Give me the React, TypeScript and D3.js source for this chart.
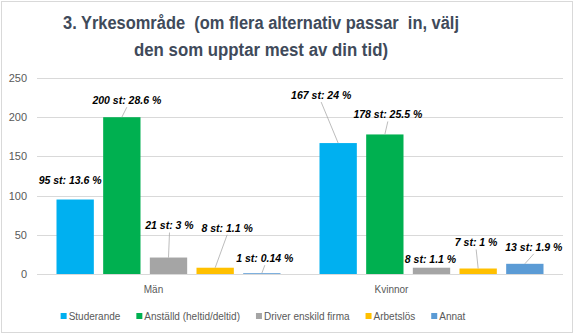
import React, { useEffect, useRef } from "react";
import * as d3 from "d3";

const categories = ["Män", "Kvinnor"];
const seriesNames = ["Studerande", "Anställd (heltid/deltid)", "Driver enskild firma", "Arbetslös", "Annat"];
const seriesColors = ["#00B0F0", "#00B050", "#A5A5A5", "#FFC000", "#5B9BD5"];
const valuesMan = [95, 200, 21, 8, 1];
const valuesKvinnor = [167, 178, 8, 7, 13];
const labelsMan = ["95 st: 13.6 %", "200 st: 28.6 %", "21 st: 3 %", "8 st: 1.1 %", "1 st: 0.14 %"];
const labelsKvinnor = ["167 st: 24 %", "178 st: 25.5 %", "8 st: 1.1 %", "7 st: 1 %", "13 st: 1.9 %"];
const yTicks = [0, 50, 100, 150, 200, 250];
const titleLines = ["3. Yrkesområde  (om flera alternativ passar  in, välj", "den som upptar mest av din tid)"];

// label placement (layout, not data): [dx, dy, leader]
const labelLayout: [number, number, boolean][][] = [
  [[-5, -19, false], [5, -17, true], [1, -32, true], [12, -40, true], [3, -15, true]],
  [[-17, -48, true], [3, -20, true], [-1, -9, false], [-2, -26, true], [9, -17, true]],
];
const catLabelShift = [-15, -40];

export default function App() {
  const ref = useRef<SVGSVGElement>(null);
  useEffect(() => {
    const svg = d3.select(ref.current);
    svg.selectAll("*").remove();
    const W = 576, H = 336;
    const left = 37, right = 563, top = 78, bottom = 274;
    const font = "'Liberation Sans', Arial, sans-serif";

    svg.append("rect").attr("x", 1.5).attr("y", 1.5).attr("width", W - 5).attr("height", H - 5)
      .attr("fill", "#fff").attr("stroke", "#d9d9d9").attr("stroke-width", 1);

    const x0 = d3.scaleBand<string>().domain(categories).range([left, right]).padding(0);
    const x1 = d3.scaleBand<string>().domain(seriesNames).range([19.5, x0.bandwidth() - 19.5]).paddingInner(0.2).paddingOuter(0);
    const y = d3.scaleLinear().domain([0, 250]).range([bottom, top]);

    // title
    const tw = [396, 254];
    const tb = [29, 56];
    titleLines.forEach((t, i) => {
      svg.append("text").attr("x", 261).attr("y", tb[i]).attr("text-anchor", "middle")
        .attr("font-family", font).attr("font-weight", "bold").attr("font-size", 17.5)
        .attr("fill", "#404a5a").attr("textLength", tw[i]).attr("lengthAdjust", "spacingAndGlyphs")
        .style("white-space", "pre").text(t);
    });

    // grid + y ticks
    yTicks.forEach((v) => {
      svg.append("line").attr("x1", left).attr("x2", right).attr("y1", Math.round(y(v)) + 0.5).attr("y2", Math.round(y(v)) + 0.5)
        .attr("stroke", "#d9d9d9").attr("stroke-width", 1);
      svg.append("text").attr("x", 27).attr("y", y(v) + 4).attr("text-anchor", "end")
        .attr("font-family", font).attr("font-size", 11).attr("fill", "#595959").text(String(v));
    });

    const allValues = [valuesMan, valuesKvinnor];
    const allLabels = [labelsMan, labelsKvinnor];
    categories.forEach((cat, ci) => {
      const g = svg.append("g").attr("transform", `translate(${x0(cat)},0)`);
      seriesNames.forEach((s, si) => {
        const v = allValues[ci][si];
        const bx = x1(s)!;
        g.append("rect").attr("x", bx).attr("y", y(v)).attr("width", x1.bandwidth())
          .attr("height", y(0) - y(v)).attr("fill", seriesColors[si]);
      });
      seriesNames.forEach((s, si) => {
        const v = allValues[ci][si];
        const cx = x1(s)! + x1.bandwidth() / 2;
        const [dx, dy, leader] = labelLayout[ci][si];
        const lx = cx + dx, ly = y(v) + dy;
        if (leader) {
          g.append("line").attr("x1", lx).attr("y1", ly + 7).attr("x2", cx).attr("y2", y(v))
            .attr("stroke", "#a6a6a6").attr("stroke-width", 0.75);
        }
        g.append("text").attr("x", lx).attr("y", ly + 3.8).attr("text-anchor", "middle")
          .attr("font-family", font).attr("font-weight", "bold").attr("font-style", "italic")
          .attr("font-size", 10.5).attr("fill", "#000").text(allLabels[ci][si]);
      });
      svg.append("text").attr("x", x0(cat)! + x0.bandwidth() / 2 + catLabelShift[ci]).attr("y", 293)
        .attr("text-anchor", "middle").attr("font-family", font).attr("font-size", 10)
        .attr("fill", "#595959").text(cat);
    });

    // legend
    const lg = svg.append("g");
    let cx = 0;
    seriesNames.forEach((s, si) => {
      lg.append("rect").attr("x", cx).attr("y", 313).attr("width", 6).attr("height", 6).attr("fill", seriesColors[si]);
      const t = lg.append("text").attr("x", cx + 8).attr("y", 320).attr("font-family", font).attr("font-size", 10)
        .attr("fill", "#595959").text(s);
      const w = (t.node() as SVGTextElement).getComputedTextLength();
      cx += 8 + w + 16;
    });
    const total = cx - 16;
    lg.attr("transform", `translate(${263 - total / 2},0)`);
  }, []);
  return (
    <svg ref={ref} width={576} height={336} style={{ position: "absolute", left: 0, top: 0, background: "#fff" }} />
  );
}
